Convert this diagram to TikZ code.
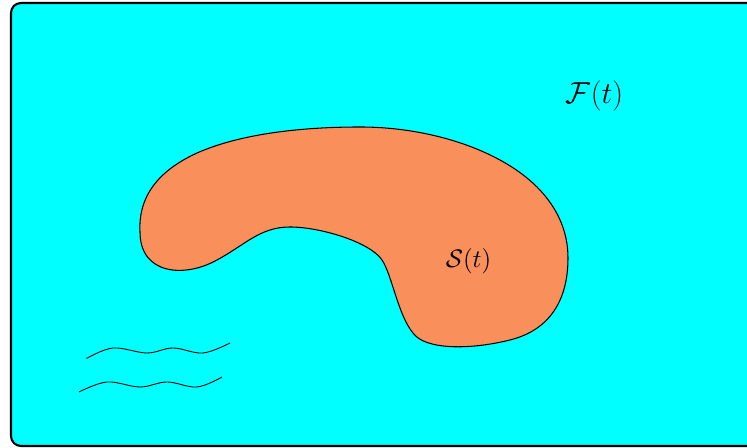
\documentclass[tikz,border=0pt]{standalone}
\usepackage{amsmath}

\begin{document}
\begin{tikzpicture}
    % Definizione colori
    \definecolor{coloreFluido}{RGB}{0,255,255}
    \definecolor{coloreSolido}{RGB}{249,143,90}

    % Riquadro della figura
    \clip (0,0) rectangle (14.94,8.96);

    % Dominio fluido
    \filldraw[fill=coloreFluido, draw=black, line width=1.2pt, rounded corners=0.2cm] (0.22,0.04) rectangle (16,8.9);

    % Corpo solido
    \filldraw[fill=coloreSolido, draw=black, line width=0.6pt] (2.8,4.32)
        .. controls (2.76,5.06) and (3.2,5.56) .. (3.94,5.9)
        .. controls (4.8,6.28) and (6.0,6.42) .. (7.2,6.42)
        .. controls (8.6,6.42) and (10.0,5.96) .. (10.74,5.22)
        .. controls (11.2,4.76) and (11.36,4.26) .. (11.36,3.8)
        .. controls (11.36,2.96) and (11.0,2.36) .. (10.2,2.16)
        .. controls (9.4,1.96) and (8.5,1.96) .. (8.26,2.3)
        .. controls (7.96,2.66) and (7.84,3.46) .. (7.64,3.76)
        .. controls (7.4,4.12) and (6.4,4.42) .. (5.8,4.42)
        .. controls (5.2,4.42) and (4.9,4.06) .. (4.34,3.76)
        .. controls (3.7,3.4) and (2.8,3.46) .. (2.8,4.32) -- cycle;

    % Onde
    \draw[line width=0.5pt] plot[smooth, tension=0.6] coordinates {
        (1.73,1.79) (2.26,2.0) (2.94,1.9) (3.46,2.0) (4.06,1.9) (4.6,2.1)};
    \draw[line width=0.5pt] plot[smooth, tension=0.6] coordinates {
        (1.58,1.12) (2.14,1.32) (2.8,1.22) (3.34,1.32) (3.94,1.22) (4.44,1.42)};

    % Etichette
    \node (fluido) at (11.89,7.05) {\LARGE $\mathcal{F}(t)$};
    \node (solido) at (9.37,3.74) {\Large $\mathcal{S}(t)$};

\end{tikzpicture}
\end{document}
